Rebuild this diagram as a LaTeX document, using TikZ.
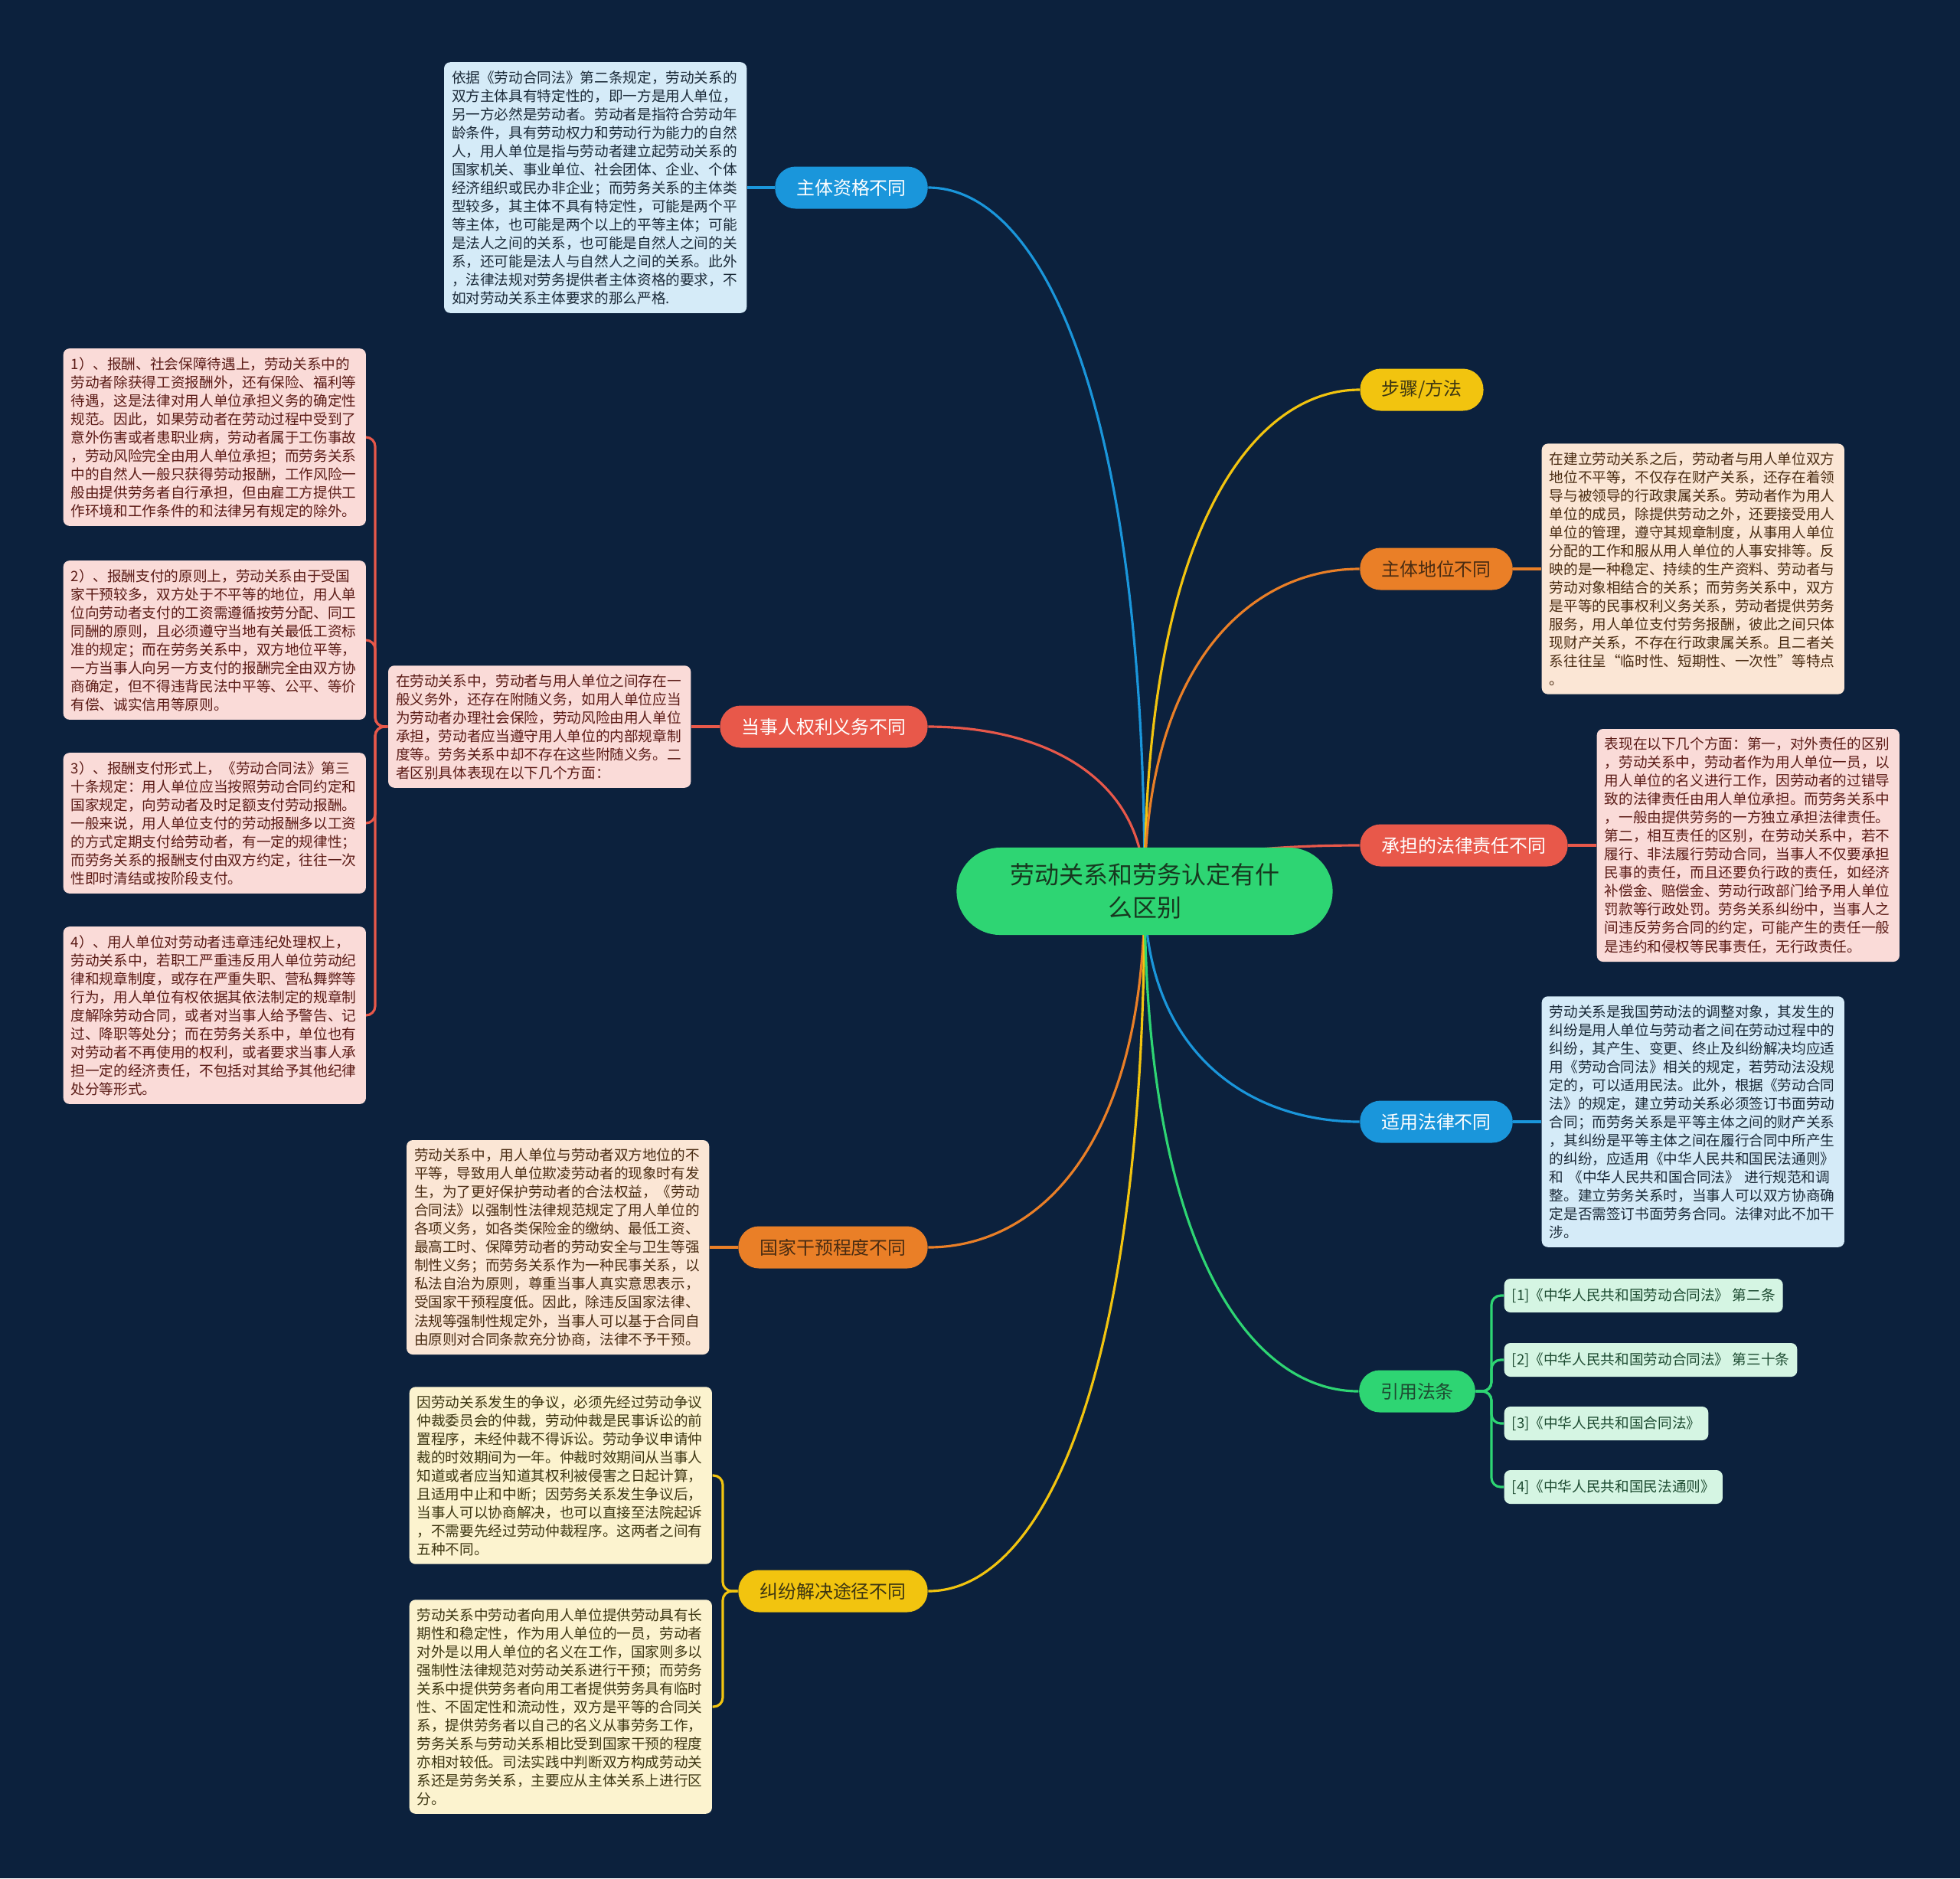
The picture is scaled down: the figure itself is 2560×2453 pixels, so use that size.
\documentclass[tikz,border=0pt]{standalone}
\usepackage{fontspec}
\setmainfont{Noto Sans CJK SC}
\pgfdeclarelayer{bg}
\pgfdeclarelayer{edges}
\pgfsetlayers{bg,edges,main}
\definecolor{bgnavy}{HTML}{0C213D}
\definecolor{cblue}{HTML}{1A96DB}
\definecolor{cred}{HTML}{E8584A}
\definecolor{corange}{HTML}{EA7F27}
\definecolor{cyellow}{HTML}{F2C40F}
\definecolor{cgreen}{HTML}{2ED573}
\definecolor{lblue}{HTML}{D5EBF8}
\definecolor{lred}{HTML}{FADBD8}
\definecolor{lorange}{HTML}{FBE6D5}
\definecolor{lyellow}{HTML}{FCF3CF}
\definecolor{lgreen}{HTML}{D5F5E3}
\definecolor{tblue}{HTML}{1B2A38}
\definecolor{tred}{HTML}{5B1B16}
\definecolor{torange}{HTML}{4A2C12}
\definecolor{tyellow}{HTML}{3D3612}
\definecolor{tgreen}{HTML}{1D4B31}
\definecolor{troot}{HTML}{17381F}
\begin{document}
\begin{tikzpicture}[x=0.01cm, y=-0.01cm, line join=round, line cap=round,
	conn/.style={line width=0.9pt},
	topic/.style={rounded corners=0.27cm, minimum height=0.55cm, inner xsep=0.28cm, inner ysep=0pt, font=\fontsize{6.8}{8}\selectfont},
	note/.style={rounded corners=0.08cm, text width=3.75cm, align=left, inner xsep=0.1cm, inner ysep=0.11cm, font=\fontsize{5.3}{6.83}\selectfont},
	cite/.style={rounded corners=0.08cm, minimum height=0.44cm, inner xsep=0.1cm, inner ysep=0pt, fill=lgreen, text=tgreen, font=\fontsize{5.3}{6.4}\selectfont}]
	% 背景
	\useasboundingbox (0,0) rectangle (2560,2453);
	\begin{pgfonlayer}{bg}
		\fill[bgnavy] (0,0) rectangle (2560,2453);
	\end{pgfonlayer}
	% 中心主题
	\node[fill=cgreen, text=troot, rounded corners=0.57cm, minimum width=4.91cm, minimum height=1.14cm, align=center, font=\fontsize{9.1}{12.2}\selectfont] (root) at (1495,1164) {劳动关系和劳务认定有什\\么区别};
	% 左侧分支
	\node[topic, fill=cblue, text=white] (b1) at (1112,245) {主体资格不同};
	\node[topic, fill=cred, text=white] (b2) at (1076,949) {当事人权利义务不同};
	\node[topic, fill=corange, text=torange] (b3) at (1088,1629) {国家干预程度不同};
	\node[topic, fill=cyellow, text=tyellow] (b4) at (1088,2078) {纠纷解决途径不同};
	% 右侧分支
	\node[topic, fill=cyellow, text=tyellow] (b5) at (1857,509) {步骤/方法};
	\node[topic, fill=corange, text=torange] (b6) at (1876,743) {主体地位不同};
	\node[topic, fill=cred, text=white] (b7) at (1912,1104) {承担的法律责任不同};
	\node[topic, fill=cblue, text=white] (b8) at (1876,1465) {适用法律不同};
	\node[topic, fill=cgreen, text=tgreen] (b9) at (1851,1817) {引用法条};
	% 主体资格不同
	\node[note, fill=lblue, text=tblue, anchor=east] (A) at (976,245) {依据《劳动合同法》第二条规定，劳动关系的\\双方主体具有特定性的，即一方是用人单位，\\另一方必然是劳动者。劳动者是指符合劳动年\\龄条件，具有劳动权力和劳动行为能力的自然\\人，用人单位是指与劳动者建立起劳动关系的\\国家机关、事业单位、社会团体、企业、个体\\经济组织或民办非企业；而劳务关系的主体类\\型较多，其主体不具有特定性，可能是两个平\\等主体，也可能是两个以上的平等主体；可能\\是法人之间的关系，也可能是自然人之间的关\\系，还可能是法人与自然人之间的关系。此外\\，法律法规对劳务提供者主体资格的要求，不\\如对劳动关系主体要求的那么严格.};
	% 当事人权利义务不同
	\node[note, fill=lred, text=tred, anchor=east] (B) at (903,949) {在劳动关系中，劳动者与用人单位之间存在一\\般义务外，还存在附随义务，如用人单位应当\\为劳动者办理社会保险，劳动风险由用人单位\\承担，劳动者应当遵守用人单位的内部规章制\\度等。劳务关系中却不存在这些附随义务。二\\者区别具体表现在以下几个方面：};
	\node[note, fill=lred, text=tred, anchor=west] (C1) at (82,571) {1）、报酬、社会保障待遇上，劳动关系中的\\劳动者除获得工资报酬外，还有保险、福利等\\待遇，这是法律对用人单位承担义务的确定性\\规范。因此，如果劳动者在劳动过程中受到了\\意外伤害或者患职业病，劳动者属于工伤事故\\，劳动风险完全由用人单位承担；而劳务关系\\中的自然人一般只获得劳动报酬，工作风险一\\般由提供劳务者自行承担，但由雇工方提供工\\作环境和工作条件的和法律另有规定的除外。};
	\node[note, fill=lred, text=tred, anchor=west] (C2) at (82,836) {2）、报酬支付的原则上，劳动关系由于受国\\家干预较多，双方处于不平等的地位，用人单\\位向劳动者支付的工资需遵循按劳分配、同工\\同酬的原则，且必须遵守当地有关最低工资标\\准的规定；而在劳务关系中，双方地位平等，\\一方当事人向另一方支付的报酬完全由双方协\\商确定，但不得违背民法中平等、公平、等价\\有偿、诚实信用等原则。};
	\node[note, fill=lred, text=tred, anchor=west] (C3) at (82,1075) {3）、报酬支付形式上，《劳动合同法》第三\\十条规定：用人单位应当按照劳动合同约定和\\国家规定，向劳动者及时足额支付劳动报酬。\\一般来说，用人单位支付的劳动报酬多以工资\\的方式定期支付给劳动者，有一定的规律性；\\而劳务关系的报酬支付由双方约定，往往一次\\性即时清结或按阶段支付。};
	\node[note, fill=lred, text=tred, anchor=west] (C4) at (82,1326) {4）、用人单位对劳动者违章违纪处理权上，\\劳动关系中，若职工严重违反用人单位劳动纪\\律和规章制度，或存在严重失职、营私舞弊等\\行为，用人单位有权依据其依法制定的规章制\\度解除劳动合同，或者对当事人给予警告、记\\过、降职等处分；而在劳务关系中，单位也有\\对劳动者不再使用的权利，或者要求当事人承\\担一定的经济责任，不包括对其给予其他纪律\\处分等形式。};
	% 国家干预程度不同
	\node[note, fill=lorange, text=torange, anchor=east] (D) at (927,1629) {劳动关系中，用人单位与劳动者双方地位的不\\平等，导致用人单位欺凌劳动者的现象时有发\\生，为了更好保护劳动者的合法权益，《劳动\\合同法》以强制性法律规范规定了用人单位的\\各项义务，如各类保险金的缴纳、最低工资、\\最高工时、保障劳动者的劳动安全与卫生等强\\制性义务；而劳务关系作为一种民事关系，以\\私法自治为原则，尊重当事人真实意思表示，\\受国家干预程度低。因此，除违反国家法律、\\法规等强制性规定外，当事人可以基于合同自\\由原则对合同条款充分协商，法律不予干预。};
	% 纠纷解决途径不同
	\node[note, fill=lyellow, text=tyellow, anchor=west] (E1) at (534,1927) {因劳动关系发生的争议，必须先经过劳动争议\\仲裁委员会的仲裁，劳动仲裁是民事诉讼的前\\置程序，未经仲裁不得诉讼。劳动争议申请仲\\裁的时效期间为一年。仲裁时效期间从当事人\\知道或者应当知道其权利被侵害之日起计算，\\且适用中止和中断；因劳务关系发生争议后，\\当事人可以协商解决，也可以直接至法院起诉\\，不需要先经过劳动仲裁程序。这两者之间有\\五种不同。};
	\node[note, fill=lyellow, text=tyellow, anchor=west] (E2) at (534,2229) {劳动关系中劳动者向用人单位提供劳动具有长\\期性和稳定性，作为用人单位的一员，劳动者\\对外是以用人单位的名义在工作，国家则多以\\强制性法律规范对劳动关系进行干预；而劳务\\关系中提供劳务者向用工者提供劳务具有临时\\性、不固定性和流动性，双方是平等的合同关\\系，提供劳务者以自己的名义从事劳务工作，\\劳务关系与劳动关系相比受到国家干预的程度\\亦相对较低。司法实践中判断双方构成劳动关\\系还是劳务关系，主要应从主体关系上进行区\\分。};
	% 主体地位不同
	\node[note, fill=lorange, text=torange, anchor=west] (F) at (2013,743) {在建立劳动关系之后，劳动者与用人单位双方\\地位不平等，不仅存在财产关系，还存在着领\\导与被领导的行政隶属关系。劳动者作为用人\\单位的成员，除提供劳动之外，还要接受用人\\单位的管理，遵守其规章制度，从事用人单位\\分配的工作和服从用人单位的人事安排等。反\\映的是一种稳定、持续的生产资料、劳动者与\\劳动对象相结合的关系；而劳务关系中，双方\\是平等的民事权利义务关系，劳动者提供劳务\\服务，用人单位支付劳务报酬，彼此之间只体\\现财产关系，不存在行政隶属关系。且二者关\\系往往呈“临时性、短期性、一次性”等特点\\。};
	% 承担的法律责任不同
	\node[note, fill=lred, text=tred, anchor=west] (G) at (2085,1104) {表现在以下几个方面：第一，对外责任的区别\\，劳动关系中，劳动者作为用人单位一员，以\\用人单位的名义进行工作，因劳动者的过错导\\致的法律责任由用人单位承担。而劳务关系中\\，一般由提供劳务的一方独立承担法律责任。\\第二，相互责任的区别，在劳动关系中，若不\\履行、非法履行劳动合同，当事人不仅要承担\\民事的责任，而且还要负行政的责任，如经济\\补偿金、赔偿金、劳动行政部门给予用人单位\\罚款等行政处罚。劳务关系纠纷中，当事人之\\间违反劳务合同的约定，可能产生的责任一般\\是违约和侵权等民事责任，无行政责任。};
	% 适用法律不同
	\node[note, fill=lblue, text=tblue, anchor=west] (H) at (2013,1465) {劳动关系是我国劳动法的调整对象，其发生的\\纠纷是用人单位与劳动者之间在劳动过程中的\\纠纷，其产生、变更、终止及纠纷解决均应适\\用《劳动合同法》相关的规定，若劳动法没规\\定的，可以适用民法。此外，根据《劳动合同\\法》的规定，建立劳动关系必须签订书面劳动\\合同；而劳务关系是平等主体之间的财产关系\\，其纠纷是平等主体之间在履行合同中所产生\\的纠纷，应适用《中华人民共和国民法通则》\\和 《中华人民共和国合同法》 进行规范和调\\整。建立劳务关系时，当事人可以双方协商确\\定是否需签订书面劳务合同。法律对此不加干\\涉。};
	% 引用法条
	\node[cite, anchor=west] (I1) at (1964,1692) {[1]《中华人民共和国劳动合同法》 第二条};
	\node[cite, anchor=west] (I2) at (1964,1776) {[2]《中华人民共和国劳动合同法》 第三十条};
	\node[cite, anchor=west] (I3) at (1964,1859) {[3]《中华人民共和国合同法》};
	\node[cite, anchor=west] (I4) at (1964,1942) {[4]《中华人民共和国民法通则》};
	% 连线
	\coordinate (kC) at (490,949);
	\coordinate (kE) at (944,2078);
	\coordinate (kI) at (1948,1817);
	\begin{pgfonlayer}{edges}
		\draw[conn, cblue] (root.center) .. controls +(0,-660) and +(142,0) .. (b1.east);
		\draw[conn, cred] (root.center) .. controls +(0,-155) and +(142,0) .. (b2.east);
		\draw[conn, corange] (root.center) .. controls +(0,335) and +(142,0) .. (b3.east);
		\draw[conn, cyellow] (root.center) .. controls +(0,660) and +(142,0) .. (b4.east);
		\draw[conn, cyellow] (root.center) .. controls +(0,-470) and +(-140,0) .. (b5.west);
		\draw[conn, corange] (root.center) .. controls +(0,-300) and +(-140,0) .. (b6.west);
		\draw[conn, cred] (root.center) .. controls +(0,-45) and +(-140,0) .. (b7.west);
		\draw[conn, cblue] (root.center) .. controls +(0,215) and +(-140,0) .. (b8.west);
		\draw[conn, cgreen] (root.center) .. controls +(0,470) and +(-140,0) .. (b9.west);
		% 分支到内容
		\draw[conn, cblue] (b1.west) -- (A.east);
		\draw[conn, cred] (b2.west) -- (B.east);
		\draw[conn, corange] (b3.west) -- (D.east);
		\draw[conn, corange] (b6.east) -- (F.west);
		\draw[conn, cred] (b7.east) -- (G.west);
		\draw[conn, cblue] (b8.east) -- (H.west);
		\foreach \c in {C1,C2,C3,C4}
			\draw[conn, cred, rounded corners=0.12cm] (B.west) -- (kC) |- (\c.east);
		\foreach \e in {E1,E2}
			\draw[conn, cyellow, rounded corners=0.12cm] (b4.west) -- (kE) |- (\e.east);
		\foreach \i in {I1,I2,I3,I4}
			\draw[conn, cgreen, rounded corners=0.12cm] (b9.east) -- (kI) |- (\i.west);
	\end{pgfonlayer}
\end{tikzpicture}
\end{document}
